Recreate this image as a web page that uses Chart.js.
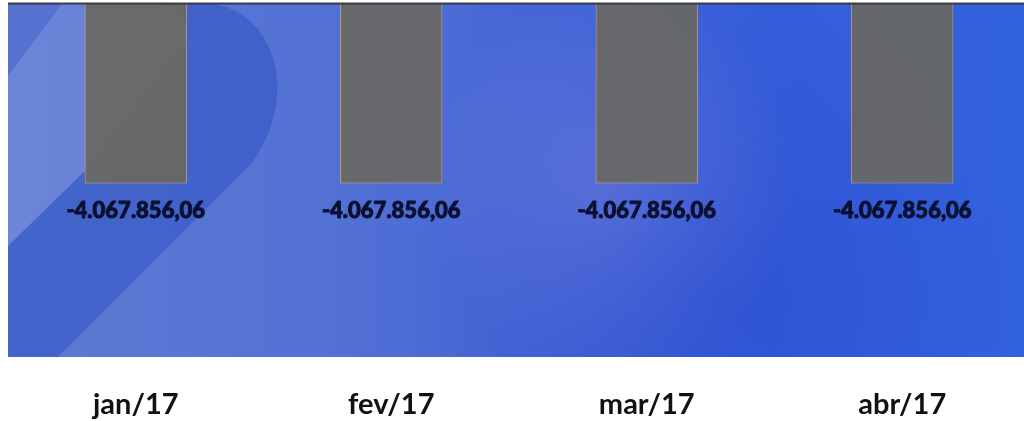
<!DOCTYPE html>
<html>
<head>
<meta charset="utf-8">
<script src="https://cdn.jsdelivr.net/npm/chart.js@4"></script>
<style>
  html, body { margin: 0; padding: 0; background: #ffffff; overflow: hidden; }
  #wrap { position: relative; width: 1036px; height: 421px; }
</style>
</head>
<body>
<div id="wrap"><canvas id="chart"></canvas></div>
<script>
// Monthly result (R$)
const months = ['jan/17', 'fev/17', 'mar/17', 'abr/17'];
const resultValues = [-4067856.06, -4067856.06, -4067856.06, -4067856.06];
const valueAxisMin = -8000000;
const valueAxisMax = 0;

const brl = new Intl.NumberFormat('pt-BR', { minimumFractionDigits: 2, maximumFractionDigits: 2 });
const LABEL_FONT = '900 22px Lato';

// Blue panel with the curved ribbon artwork behind the bars
const panelBackground = {
  id: 'panelBackground',
  beforeDatasetsDraw(chart) {
    const { ctx, chartArea: a } = chart;
    const L = a.left, T = a.top, R = a.right, B = a.bottom;
    ctx.save();
    ctx.beginPath();
    ctx.rect(L, T, R - L, B - T);
    ctx.clip();

    const g = ctx.createLinearGradient(L, 0, R, 0);
    g.addColorStop(0, 'rgb(94,122,212)');
    g.addColorStop(0.3, 'rgb(84,114,212)');
    g.addColorStop(0.5, 'rgb(70,102,214)');
    g.addColorStop(0.75, 'rgb(54,94,218)');
    g.addColorStop(1, 'rgb(50,98,222)');
    ctx.fillStyle = g;
    ctx.fillRect(L, T, R - L, B - T);

    // soft lighter glow in the middle
    const r1 = ctx.createRadialGradient(610, 180, 10, 610, 180, 190);
    r1.addColorStop(0, 'rgba(140,145,225,0.4)');
    r1.addColorStop(1, 'rgba(140,145,225,0)');
    ctx.fillStyle = r1;
    ctx.fillRect(L, T, R - L, B - T);

    // deeper blue along the lower right
    const r2 = ctx.createRadialGradient(720, 300, 10, 720, 300, 320);
    r2.addColorStop(0, 'rgba(30,60,195,0.3)');
    r2.addColorStop(1, 'rgba(30,60,195,0)');
    ctx.fillStyle = r2;
    ctx.fillRect(L, T, R - L, B - T);

    // top-left corner, slightly darker
    ctx.fillStyle = 'rgba(70,100,200,0.3)';
    ctx.beginPath();
    ctx.moveTo(L, T);
    ctx.lineTo(62, T);
    ctx.lineTo(L, 76);
    ctx.closePath();
    ctx.fill();

    // light ribbon
    ctx.fillStyle = 'rgba(140,158,222,0.3)';
    ctx.beginPath();
    ctx.moveTo(L, 76);
    ctx.lineTo(62, T);
    ctx.lineTo(160, T);
    ctx.quadraticCurveTo(190, T, 186, 42);
    ctx.lineTo(88, 168);
    ctx.lineTo(L, 246);
    ctx.closePath();
    ctx.fill();

    // dark ribbon curling over the top
    ctx.fillStyle = 'rgba(42,80,192,0.5)';
    ctx.beginPath();
    ctx.moveTo(L, 246);
    ctx.lineTo(88, 168);
    ctx.lineTo(186, 42);
    ctx.quadraticCurveTo(190, T, 160, T);
    ctx.lineTo(205, T);
    ctx.bezierCurveTo(255, T, 285, 55, 276, 105);
    ctx.quadraticCurveTo(270, 140, 250, 165);
    ctx.lineTo(58, B);
    ctx.lineTo(L, B);
    ctx.closePath();
    ctx.fill();

    ctx.restore();
  },
  afterDatasetsDraw(chart) {
    const { ctx, chartArea: a } = chart;
    ctx.save();
    ctx.strokeStyle = 'rgba(40,40,50,0.9)';
    ctx.lineWidth = 2;
    ctx.beginPath();
    ctx.moveTo(a.left, a.top - 0.5);
    ctx.lineTo(a.right, a.top - 0.5);
    ctx.stroke();
    ctx.restore();
  }
};

// Value text under the end of each bar
const valueLabels = {
  id: 'valueLabels',
  afterDatasetsDraw(chart) {
    const { ctx } = chart;
    const meta = chart.getDatasetMeta(0);
    ctx.save();
    ctx.font = LABEL_FONT;
    ctx.fillStyle = '#0b1030';
    ctx.strokeStyle = '#0b1030';
    ctx.lineWidth = 0.9;
    ctx.lineJoin = 'round';
    ctx.textAlign = 'center';
    ctx.textBaseline = 'middle';
    meta.data.forEach((bar, i) => {
      const text = brl.format(resultValues[i]);
      ctx.strokeText(text, bar.x, bar.y + 27);
      ctx.fillText(text, bar.x, bar.y + 27);
    });
    ctx.restore();
  }
};

function build() {
  new Chart(document.getElementById('chart'), {
    type: 'bar',
    data: {
      labels: months,
      datasets: [{
        data: resultValues,
        backgroundColor: 'rgba(104,104,100,0.94)',
        borderColor: '#d9a45a',
        borderWidth: 1,
        barPercentage: 0.4,
        categoryPercentage: 1.0
      }]
    },
    options: {
      responsive: true,
      maintainAspectRatio: false,
      animation: false,
      layout: { padding: { left: 8, right: 6, top: 4, bottom: 0 } },
      plugins: {
        legend: { display: false },
        tooltip: { enabled: false }
      },
      scales: {
        x: {
          grid: { display: false, drawTicks: false },
          border: { display: false },
          ticks: {
            color: '#111111',
            padding: 30,
            font: { family: 'Lato', weight: 'bold', size: 29 }
          },
          afterFit(scale) { scale.height = 64; }
        },
        y: {
          display: false,
          min: valueAxisMin,
          max: valueAxisMax
        }
      }
    },
    plugins: [panelBackground, valueLabels]
  });
}

Promise.all([
  document.fonts.load(LABEL_FONT),
  document.fonts.load('bold 29px Lato')
]).then(build, build);
</script>
</body>
</html>
